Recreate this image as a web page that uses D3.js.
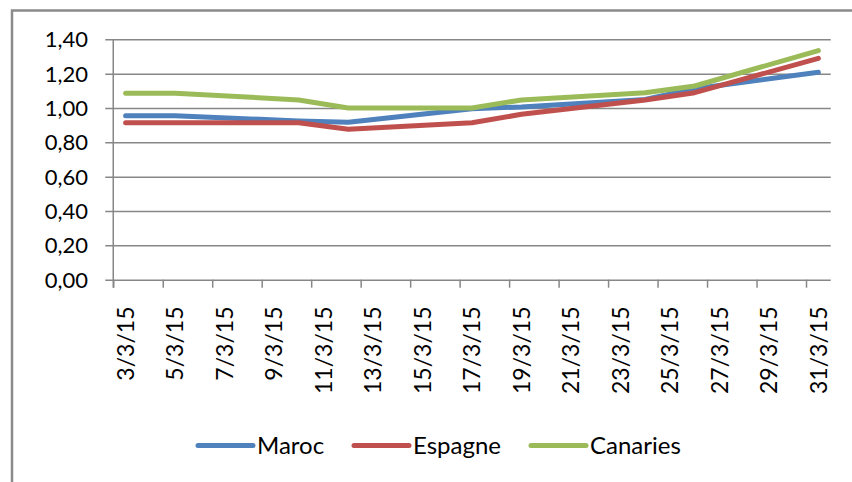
<!DOCTYPE html>
<html>
<head>
<meta charset="utf-8">
<script src="https://cdn.jsdelivr.net/npm/d3@7/dist/d3.min.js"></script>
<style>
  html, body { margin: 0; padding: 0; background: #ffffff; }
  svg { display: block; }
  text { font-family: Lato, "Open Sans", sans-serif; fill: #000; }
</style>
</head>
<body>
<svg id="chart" width="852" height="482"></svg>
<script>
// ---- data ----
const dates = ["3/3/15", "5/3/15", "10/3/15", "12/3/15", "17/3/15", "19/3/15", "24/3/15", "26/3/15", "31/3/15"];
const maroc    = [0.955, 0.955, 0.924, 0.917, 0.996, 1.006, 1.050, 1.112, 1.208];
const espagne  = [0.914, 0.914, 0.914, 0.876, 0.914, 0.963, 1.047, 1.089, 1.289];
const canaries = [1.086, 1.086, 1.047, 1.000, 1.000, 1.047, 1.089, 1.128, 1.334];
const seriesNames = ["Maroc", "Espagne", "Canaries"];
const seriesColors = ["#4F81BD", "#C0504D", "#9BBB59"];
const xTickLabels = ["3/3/15", "5/3/15", "7/3/15", "9/3/15", "11/3/15", "13/3/15", "15/3/15", "17/3/15",
                     "19/3/15", "21/3/15", "23/3/15", "25/3/15", "27/3/15", "29/3/15", "31/3/15"];
const yTicks = [0, 0.2, 0.4, 0.6, 0.8, 1.0, 1.2, 1.4];

// ---- setup ----
const parse = d3.timeParse("%-d/%-m/%y");
const svg = d3.select("#chart");
const gridColor = "#878787";

const x0 = 113.25, x1 = 830.75, yTop = 39.3, yBot = 279.7;
const x = d3.scaleTime()
  .domain([parse("3/3/15"), d3.timeDay.offset(parse("31/3/15"), 1)])
  .range([x0, x1]);
const y = d3.scaleLinear().domain([0, 1.4]).range([yBot, yTop]);
const noon = d => d3.timeHour.offset(d, 12);
const fmt = v => d3.format(".2f")(v).replace(".", ",");

// outer frame
svg.append("rect")
  .attr("x", 12).attr("y", 10.5).attr("width", 900).attr("height", 600)
  .attr("fill", "none").attr("stroke", "#8a8a8a").attr("stroke-width", 2.5);

// y gridlines + axis
const yAxis = d3.axisLeft(y).tickValues(yTicks).tickSize(-(x1 - x0)).tickFormat("");
const gy = svg.append("g").attr("transform", `translate(${x0},0)`).call(yAxis);
gy.select(".domain").remove();
gy.selectAll(".tick line").attr("stroke", gridColor).attr("stroke-width", 1.5).attr("x1", -8);

svg.append("line")
  .attr("x1", x0).attr("x2", x0).attr("y1", yTop).attr("y2", yBot + 8)
  .attr("stroke", gridColor).attr("stroke-width", 1.5);

svg.append("g").selectAll("text").data(yTicks).join("text")
  .attr("x", 88).attr("y", d => y(d)).attr("dy", "0.36em")
  .attr("text-anchor", "end").attr("font-size", 22)
  .text(fmt);

// x axis ticks
const xTickDates = xTickLabels.map(parse);
const xAxis = d3.axisBottom(x).tickValues(xTickDates).tickSize(8).tickFormat("");
const gx = svg.append("g").attr("transform", `translate(0,${yBot})`).call(xAxis);
gx.select(".domain").remove();
gx.selectAll(".tick line").attr("stroke", gridColor).attr("stroke-width", 1.5);

svg.append("g").selectAll("text").data(xTickLabels).join("text")
  .attr("transform", d => `translate(${x(noon(parse(d)))},306.5) rotate(-90)`)
  .attr("dy", "0.36em")
  .attr("text-anchor", "end").attr("font-size", 23)
  .text(d => d);

// lines
const allSeries = [maroc, espagne, canaries];
const line = d3.line()
  .x((v, i) => x(noon(parse(dates[i]))))
  .y(v => y(v));
svg.append("g").selectAll("path").data(allSeries).join("path")
  .attr("d", line)
  .attr("fill", "none")
  .attr("stroke", (d, i) => seriesColors[i])
  .attr("stroke-width", 5)
  .attr("stroke-linecap", "round")
  .attr("stroke-linejoin", "round");

// legend
const legendLineX = [198, 354, 531];
const lg = svg.append("g").selectAll("g").data(seriesNames).join("g")
  .attr("transform", (d, i) => `translate(${legendLineX[i]},445.5)`);
lg.append("line")
  .attr("x1", 0).attr("x2", 55).attr("y1", 0).attr("y2", 0)
  .attr("stroke", (d, i) => seriesColors[i])
  .attr("stroke-width", 5).attr("stroke-linecap", "round");
lg.append("text")
  .attr("x", 59).attr("y", 0).attr("dy", "0.36em")
  .attr("font-size", 24)
  .text(d => d);
</script>
</body>
</html>
